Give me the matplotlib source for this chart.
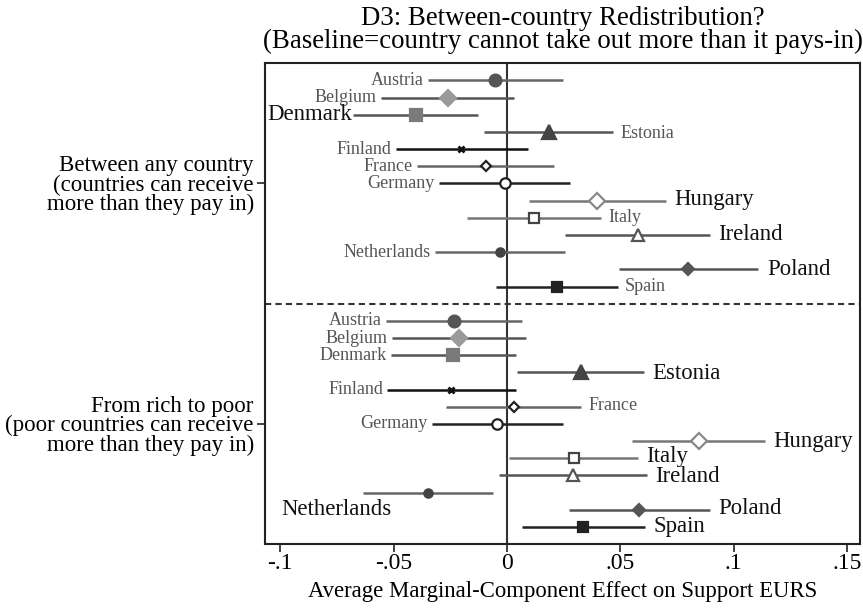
import matplotlib
matplotlib.use("Agg")
import matplotlib.pyplot as plt
import numpy as np

plt.rcParams['font.family'] = ['Liberation Serif', 'DejaVu Serif']

countries = ["Austria", "Belgium", "Denmark", "Estonia", "Finland", "France", "Germany",
             "Hungary", "Italy", "Ireland", "Netherlands", "Poland", "Spain"]

# Panel 1: Between any country
est_any = [-0.0053, -0.026, -0.040, 0.0186, -0.0203, -0.0093, -0.0009,
           0.0398, 0.012, 0.058, -0.003, 0.080, 0.022]
lo_any = [-0.035, -0.0556, -0.068, -0.010, -0.049, -0.0397, -0.030,
          0.0097, -0.0177, 0.0256, -0.0318, 0.0495, -0.0048]
hi_any = [0.0248, 0.0033, -0.0128, 0.047, 0.0093, 0.0207, 0.028,
          0.070, 0.0415, 0.0896, 0.0256, 0.111, 0.049]

# Panel 2: From rich to poor
est_rich = [-0.0232, -0.0212, -0.0238, 0.0325, -0.0245, 0.0030, -0.0044,
            0.0848, 0.0295, 0.0292, -0.0347, 0.0582, 0.0337]
lo_rich = [-0.0534, -0.0508, -0.0512, 0.0043, -0.0528, -0.027, -0.0331,
           0.0552, 0.0011, -0.0035, -0.0634, 0.0274, 0.0066]
hi_rich = [0.0068, 0.0082, 0.0042, 0.0604, 0.0038, 0.0329, 0.0249,
           0.1137, 0.0577, 0.0616, -0.006, 0.0895, 0.0608]

group_labels = ["Between any country\n(countries can receive\nmore than they pay in)",
                "From rich to poor\n(poor countries can receive\nmore than they pay in)"]

xticks = [-0.1, -0.05, 0, 0.05, 0.1, 0.15]
xticklabels = ["-.1", "-.05", "0", ".05", ".1", ".15"]

# styles per country: marker, markersize, face, edge, line colour
styles = {
    "Austria":     dict(marker='o', ms=8.5, mfc='#555555', mec='#555555', lc='#666666'),
    "Belgium":     dict(marker='D', ms=8.5, mfc='#9a9a9a', mec='#9a9a9a', lc='#555555'),
    "Denmark":     dict(marker='s', ms=8.5, mfc='#7a7a7a', mec='#7a7a7a', lc='#555555'),
    "Estonia":     dict(marker='^', ms=9.5, mfc='#444444', mec='#444444', lc='#555555'),
    "Finland":     dict(marker='x', ms=5, mfc='#111111', mec='#111111', lc='#111111'),
    "France":      dict(marker='D', ms=5.5, mfc='white', mec='#222222', lc='#666666'),
    "Germany":     dict(marker='o', ms=7.5, mfc='white', mec='#222222', lc='#222222'),
    "Hungary":     dict(marker='D', ms=8, mfc='white', mec='#888888', lc='#777777'),
    "Italy":       dict(marker='s', ms=7.5, mfc='white', mec='#444444', lc='#777777'),
    "Ireland":     dict(marker='^', ms=8.5, mfc='white', mec='#555555', lc='#555555'),
    "Netherlands": dict(marker='o', ms=6, mfc='#444444', mec='#444444', lc='#666666'),
    "Poland":      dict(marker='D', ms=6.5, mfc='#555555', mec='#555555', lc='#555555'),
    "Spain":       dict(marker='s', ms=6.5, mfc='#222222', mec='#222222', lc='#222222'),
}

# label placement: (side, big, vertical nudge in points)
lab_any = [('l', 0, 0), ('l', 0, 0), ('l', 1, 0), ('r', 0, -1), ('l', 0, 0), ('l', 0, 0), ('l', 0, 0),
           ('r', 1, 1), ('r', 0, 0), ('r', 1, 0), ('l', 0, 0), ('r', 1, 0), ('r', 0, 0)]
lab_rich = [('l', 0, 0), ('l', 0, 0), ('l', 0, 0), ('r', 1, -1), ('l', 0, 0), ('r', 0, 1), ('l', 0, 0),
            ('r', 1, 0), ('r', 1, 1.5), ('r', 1, -1), ('b', 1, 0), ('r', 1, 1), ('r', 1, 0)]

fig = plt.figure(figsize=(8.63, 6.08), dpi=100)
ax = fig.add_axes([0.307, 0.105, 0.6895, 0.791])

def draw(est, lo, hi, labs, start):
    for i, c in enumerate(countries):
        y = start + i
        st = styles[c]
        ax.plot([lo[i], hi[i]], [y, y], color=st['lc'], lw=1.8, solid_capstyle='butt', zorder=2)
        mew = 2.0 if st['marker'] == 'x' else 1.6
        ax.plot([est[i]], [y], marker=st['marker'], ms=st['ms'], mfc=st['mfc'],
                mec=st['mec'], mew=mew, ls='none', zorder=3)
        side, big, dy = labs[i]
        fs = 16.4 if big else 13
        col = '#111111' if big else '#555555'
        if side == 'l':
            gap = -0.5 if big else -3
            ax.annotate(c, (lo[i], y), xytext=(gap, dy), textcoords='offset points',
                        ha='right', va='center', fontsize=fs, color=col)
        elif side == 'r':
            gap = 6 if big else 5
            ax.annotate(c, (hi[i], y), xytext=(gap, dy), textcoords='offset points',
                        ha='left', va='center', fontsize=fs, color=col)
        else:
            ax.annotate(c, (lo[i], y), xytext=(20, -12), textcoords='offset points',
                        ha='right', va='center', fontsize=fs, color=col)

draw(est_any, lo_any, hi_any, lab_any, 1)
draw(est_rich, lo_rich, hi_rich, lab_rich, 15)

ax.axvline(0, color='#333333', lw=1.5, zorder=1)
ax.axhline(14, color='#333333', lw=1.5, ls=(0, (3, 2)), zorder=1)

ax.set_xlim(-0.1068, 0.1558)
ax.set_ylim(28, 0)
ax.set_xticks(xticks)
ax.set_xticklabels(xticklabels, fontsize=17)
ax.set_yticks([7, 21])
ax.set_yticklabels(group_labels, fontsize=16.5, ha='right', linespacing=0.9)
ax.tick_params(axis='both', direction='out', length=6, width=1.2, color='#222222')
ax.tick_params(axis='y', pad=2)
ax.tick_params(axis='x', pad=0.5)
for s in ax.spines.values():
    s.set_linewidth(1.5)
    s.set_color('#222222')

ax.set_xlabel("Average Marginal-Component Effect on Support EURS", fontsize=16.4, labelpad=5)
ax.set_title("D3: Between-country Redistribution?\n(Baseline=country cannot take out more than it pays-in)",
             fontsize=19.4, linespacing=0.86, pad=11)

fig.savefig("out.png", dpi=100)
